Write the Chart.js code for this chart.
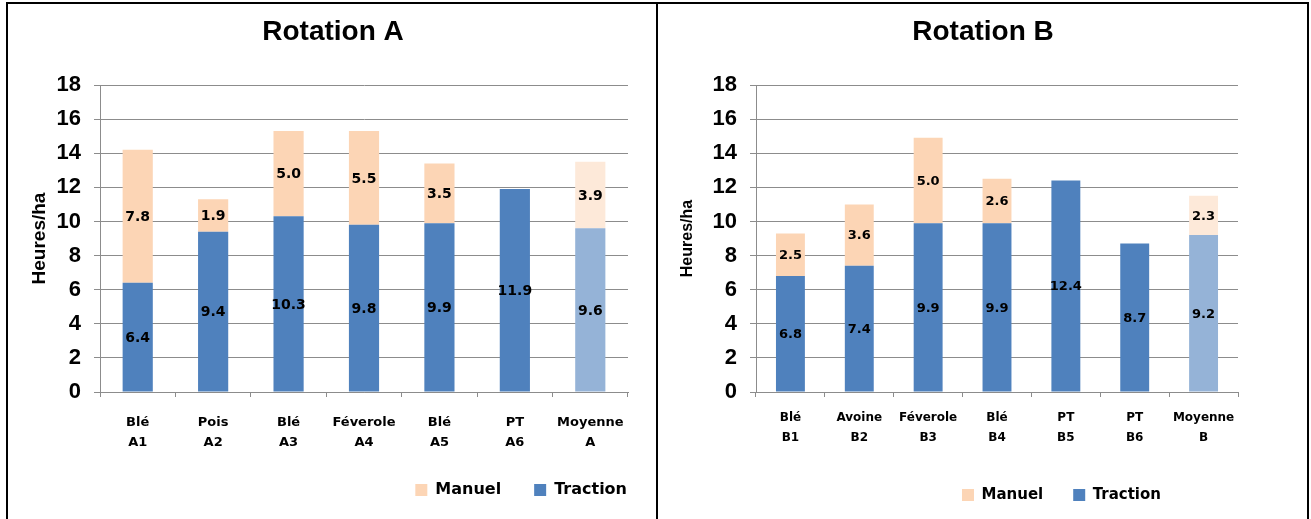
<!DOCTYPE html>
<html>
<head>
<meta charset="utf-8">
<script src="https://cdn.jsdelivr.net/npm/chart.js@4.4.1/dist/chart.umd.min.js"></script>
<style>
  html, body { margin: 0; padding: 0; background: #fff; width: 1311px; height: 519px; overflow: hidden; }
  .frame { position: absolute; left: 6px; top: 2px; width: 1303px; height: 600px; border: 2px solid #000; box-sizing: border-box; }
  .divider { position: absolute; left: 656px; top: 2px; width: 2px; height: 600px; background: #000; }
  .panel { position: absolute; top: 5px; width: 646px; height: 514px; }
  #pa { left: 10px; }
  #pb { left: 660px; }
</style>
</head>
<body>
<div class="frame"></div>
<div class="divider"></div>
<div class="panel" id="pa"><canvas id="ca" width="646" height="514"></canvas></div>
<div class="panel" id="pb"><canvas id="cb" width="646" height="514"></canvas></div>
<script>
// Hours per hectare, split into traction work and manual work
const categoriesA = [['Blé', 'A1'], ['Pois', 'A2'], ['Blé', 'A3'], ['Féverole', 'A4'], ['Blé', 'A5'], ['PT', 'A6'], ['Moyenne', 'A']];
const tractionA = [6.4, 9.4, 10.3, 9.8, 9.9, 11.9, 9.6];
const manuelA = [7.8, 1.9, 5.0, 5.5, 3.5, 0, 3.9];

const categoriesB = [['Blé', 'B1'], ['Avoine', 'B2'], ['Féverole', 'B3'], ['Blé', 'B4'], ['PT', 'B5'], ['PT', 'B6'], ['Moyenne', 'B']];
const tractionB = [6.8, 7.4, 9.9, 9.9, 12.4, 8.7, 9.2];
const manuelB = [2.5, 3.6, 5.0, 2.6, 0, 0, 2.3];

const yTickValues = [0, 2, 4, 6, 8, 10, 12, 14, 16, 18];

const COLORS = {
  traction: '#4F81BD', tractionAvg: '#95B3D7',
  manuel: '#FCD5B5', manuelAvg: '#FDE9D9',
  grid: '#8c8c8c'
};

// the last category is the rotation average, drawn in paler tints
const tint = (cats, normal, avg) => cats.map((c, i) => i === cats.length - 1 ? avg : normal);

// writes each segment's value in the middle of its bar segment
const barValues = {
  id: 'barValues',
  afterDatasetsDraw(chart, args, opts) {
    const ctx = chart.ctx;
    ctx.save();
    ctx.font = 'bold ' + opts.size + 'px "DejaVu Sans"';
    ctx.fillStyle = '#000';
    ctx.textAlign = 'center';
    ctx.textBaseline = 'middle';
    chart.data.datasets.forEach((ds, i) => {
      const meta = chart.getDatasetMeta(i);
      meta.data.forEach((bar, j) => {
        const v = ds.data[j];
        if (!v) return;
        const p = bar.getProps(['x', 'y', 'base'], true);
        ctx.fillText(v.toFixed(1), p.x, (p.y + p.base) / 2 + 1);
      });
    });
    ctx.restore();
  }
};

// centres the title across the whole panel and keeps the legend
// under the right-hand part of the plot
const boxAnchor = {
  id: 'boxAnchor',
  afterLayout(chart, args, opts) {
    const t = chart.titleBlock;
    if (t) {
      t.left = 0;
      t.right = chart.width;
      t.width = chart.width;
    }
    const lg = chart.legend;
    if (lg && opts.legendRight != null) {
      const w = lg.right - lg.left;
      lg.right = opts.legendRight;
      lg.left = opts.legendRight - w;
    }
  }
};

function makeChart(id, s) {
  return new Chart(document.getElementById(id), {
    type: 'bar',
    data: {
      labels: s.categories,
      datasets: [
        { label: 'Traction', data: s.traction, backgroundColor: tint(s.categories, COLORS.traction, COLORS.tractionAvg), borderWidth: 0 },
        { label: 'Manuel', data: s.manuel, backgroundColor: tint(s.categories, COLORS.manuel, COLORS.manuelAvg), borderWidth: 0 }
      ]
    },
    plugins: [barValues, boxAnchor],
    options: {
      responsive: false,
      animation: false,
      devicePixelRatio: 1,
      layout: { padding: { left: 0, top: 0, right: s.padRight, bottom: s.padBottom } },
      datasets: { bar: { barPercentage: s.barPct, categoryPercentage: 1 } },
      plugins: {
        title: {
          display: true, text: s.title, color: '#000',
          font: { family: '"Liberation Sans", Arial, sans-serif', size: 28, weight: 'bold', lineHeight: 1.2 },
          padding: { top: 10, bottom: 36.4 }
        },
        legend: {
          position: 'bottom', align: 'end', reverse: true,
          labels: {
            boxWidth: 12, boxHeight: 12, padding: s.legendGap, color: '#000',
            font: { family: '"DejaVu Sans", sans-serif', size: s.legendSize, weight: 'bold' }
          }
        },
        tooltip: { enabled: false },
        barValues: { size: s.valueSize },
        boxAnchor: { legendRight: s.legendRight }
      },
      scales: {
        x: {
          stacked: true,
          grid: { display: true, drawOnChartArea: false, drawTicks: true, tickLength: 5, color: COLORS.grid, offset: true },
          border: { display: true, color: COLORS.grid, width: 1 },
          ticks: {
            color: '#000', padding: s.xPad, maxRotation: 0, autoSkip: false,
            font: { family: '"DejaVu Sans", sans-serif', size: s.xSize, weight: 'bold', lineHeight: s.xLine }
          },
          afterFit: sc => { sc.height = s.xHeight; }
        },
        y: {
          stacked: true, min: 0, max: 18,
          afterBuildTicks: sc => { sc.ticks = yTickValues.map(v => ({ value: v })); },
          grid: { color: COLORS.grid, lineWidth: 1, tickLength: 6 },
          border: { display: true, color: COLORS.grid, width: 1 },
          ticks: {
            color: '#000', padding: 13,
            font: { family: '"Liberation Sans", Arial, sans-serif', size: 22, weight: 'bold' }
          },
          title: {
            display: true, text: 'Heures/ha', color: '#000',
            font: { family: '"Liberation Sans", Arial, sans-serif', size: s.yTitleSize, weight: 'bold', lineHeight: 1.2 },
            padding: { top: s.yTitlePad, bottom: 0 }
          },
          afterFit: sc => { sc.width = s.yWidth; }
        }
      }
    }
  });
}

makeChart('ca', {
  title: 'Rotation A', categories: categoriesA, traction: tractionA, manuel: manuelA,
  padRight: 28, padBottom: 11, barPct: 0.4,
  legendGap: 33, legendSize: 16, legendRight: 650,
  valueSize: 14, xPad: 16, xSize: 13, xLine: 1.5, xHeight: 57,
  yTitleSize: 19, yTitlePad: 18, yWidth: 90
});

makeChart('cb', {
  title: 'Rotation B', categories: categoriesB, traction: tractionB, manuel: manuelB,
  padRight: 68, padBottom: 6.5, barPct: 0.42,
  legendGap: 30, legendSize: 15, legendRight: 531,
  valueSize: 13, xPad: 11, xSize: 12, xLine: 1.65, xHeight: 65.5,
  yTitleSize: 16, yTitlePad: 18, yWidth: 96
});
</script>
</body>
</html>
